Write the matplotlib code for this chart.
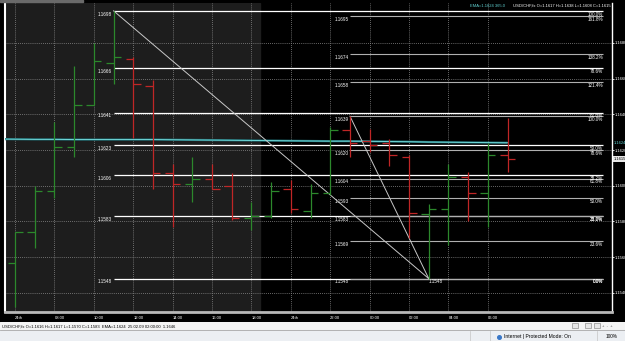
import matplotlib
matplotlib.use('Agg')
import matplotlib.pyplot as plt
from matplotlib.patches import Rectangle
import numpy as np

plt.rcParams['font.family'] = ['Liberation Sans', 'DejaVu Sans']

# --- hourly USD/CHF bars ---
opens  = [1.1557, 1.1574, 1.1597, 1.1622, 1.1645, 1.1669, 1.1671, 1.1656, 1.1607,
          1.1601, 1.1604, 1.1600, 1.1582, 1.1583, 1.1598, 1.1586, 1.1596, 1.1631,
          1.1625, 1.1624, 1.1616, 1.1584, 1.1587, 1.1605, 1.1596, 1.1617]
highs  = [1.1574, 1.1600, 1.1636, 1.1667, 1.1680, 1.1698, 1.1672, 1.1659, 1.1612,
          1.1616, 1.1612, 1.1607, 1.1591, 1.1602, 1.1603, 1.1601, 1.1633, 1.1639,
          1.1632, 1.1626, 1.1617, 1.1590, 1.1612, 1.1608, 1.1624, 1.1638]
lows   = [1.1532, 1.1565, 1.1593, 1.1616, 1.1645, 1.1657, 1.1627, 1.1598, 1.1577,
          1.1591, 1.1598, 1.1581, 1.1575, 1.1582, 1.1585, 1.1582, 1.1595, 1.1616,
          1.1619, 1.1611, 1.1571, 1.1548, 1.1567, 1.1580, 1.1577, 1.1608]
closes = [1.1574, 1.1597, 1.1622, 1.1645, 1.1670, 1.1672, 1.1657, 1.1607, 1.1601,
          1.1604, 1.1598, 1.1582, 1.1583, 1.1597, 1.1587, 1.1596, 1.1631, 1.1624,
          1.1623, 1.1617, 1.1585, 1.1587, 1.1605, 1.1596, 1.1617, 1.1615]

# EMA(365), starts one bar before the first visible bar
ema = [1.16262, 1.16261, 1.16260, 1.16260, 1.16259, 1.16259, 1.16259, 1.16259,
       1.16259, 1.16258, 1.16257, 1.16256, 1.16255, 1.16254, 1.16253, 1.16252,
       1.16251, 1.16250, 1.16250, 1.16249, 1.16248, 1.16247, 1.16245, 1.16244,
       1.16243, 1.16242, 1.16241]

time_labels = ['24th', '08:00', '10:00', '12:00', '14:00', '16:00', '18:00',
               '24th', '22:00', '00:00', '02:00', '04:00', '06:00']
price_ticks = [1.1540, 1.1560, 1.1580, 1.1600, 1.1620, 1.1640, 1.1660, 1.1680]

# fibonacci 1: bar 5 high -> bar 21 low
fib1_levels = [1.1698, 1.1666, 1.1641, 1.1623, 1.1606, 1.1583, 1.1548]
fib1_pct    = ['100.0%', '78.6%', '61.8%', '50.0%', '38.2%', '23.6%', '0.0%']
# fibonacci 2: bar 17 high -> bar 21 low
fib2_levels = [1.1695, 1.1674, 1.1658, 1.1639, 1.1620, 1.1604, 1.1593, 1.1583, 1.1569, 1.1548]
fib2_pct    = ['161.8%', '138.2%', '121.4%', '100.0%', '78.6%', '61.8%', '50.0%',
               '38.2%', '23.6%', '0.0%']

W, H = 625, 341
fig = plt.figure(figsize=(W / 100, H / 100), dpi=100, facecolor='black')
ax = fig.add_axes([5 / W, (H - 312) / H, (612 - 5) / W, (312 - 3) / H])
ax.set_facecolor('black')
ax.set_xlim(-0.51, 30.3)
ax.set_ylim(1.15293, 1.17024)

# older part of the chart is shaded
ax.axvspan(-0.51, 12.45, color='#1d1d1d', zorder=0)

# grid
ax.set_yticks(price_ticks)
ax.set_yticklabels(['%.4f' % p for p in price_ticks])
ax.yaxis.tick_right()
ax.tick_params(axis='y', colors='white', labelsize=3.0, length=1.5, width=0.6, pad=0.8)
ax.set_xticks(range(0, 2 * len(time_labels), 2))
ax.set_xticklabels(time_labels, ha='left')
ax.tick_params(axis='x', colors='white', labelsize=3.0, length=0, pad=3)
ax.grid(True, color='#8a8a8a', linestyle=(0, (1, 1.5)), linewidth=0.6, zorder=1)
ax.set_axisbelow(True)

for side in ['left', 'right']:
    ax.spines[side].set_color('white')
ax.spines['left'].set_linewidth(1.5)
ax.spines['right'].set_linewidth(1.0)
ax.spines['bottom'].set_color('#b8b8b8')
ax.spines['bottom'].set_linewidth(2.0)
ax.spines['top'].set_visible(False)

# EMA line
ema_x = np.arange(-1, len(ema) - 1)
ax.plot(ema_x, ema, color='#1f6a70', lw=1.6, zorder=3, solid_capstyle='butt')
ax.plot(ema_x, ema, color='#6fd8d8', lw=0.7, zorder=3)

# fibonacci lines and labels
x_end = 29.85
i_hi1, i_lo = 5, 21
i_hi2 = 17
for p, pct in zip(fib1_levels, fib1_pct):
    ax.hlines(p, i_hi1, x_end, color='white', lw=0.9, zorder=2)
    ax.annotate('%.4f' % p, xy=(i_hi1, p), xytext=(-1, -0.6), textcoords='offset points',
                ha='right', va='top', color='white', fontsize=3.3)
    ax.annotate(pct, xy=(x_end, p), xytext=(0, -0.6), textcoords='offset points',
                ha='right', va='top', color='white', fontsize=3.3)
for p, pct in zip(fib2_levels, fib2_pct):
    ax.hlines(p, i_hi2, x_end, color='#b0b0b0', lw=0.8, zorder=2)
    ax.annotate('%.4f' % p, xy=(i_hi2, p), xytext=(-1, -0.6), textcoords='offset points',
                ha='right', va='top', color='white', fontsize=3.3)
    ax.annotate(pct, xy=(x_end, p), xytext=(0, -0.6), textcoords='offset points',
                ha='right', va='top', color='white', fontsize=3.3)

ax.plot([i_hi1, i_lo], [highs[i_hi1], lows[i_lo]], color='#c8c8c8', lw=0.7, zorder=4)
ax.plot([i_hi2, i_lo], [highs[i_hi2], lows[i_lo]], color='#c8c8c8', lw=0.7, zorder=4)
ax.annotate('%.4f' % lows[i_lo], xy=(i_lo, lows[i_lo]), xytext=(0, -0.6),
            textcoords='offset points', ha='left', va='top', color='white', fontsize=3.3)

# OHLC bars
tick = 0.38
for i in range(len(opens)):
    c = '#2c882c' if closes[i] >= opens[i] else '#c02626'
    ax.vlines(i, lows[i], highs[i], color=c, lw=0.9, zorder=5)
    ax.hlines(opens[i], i - tick, i, color=c, lw=0.9, zorder=5)
    ax.hlines(closes[i], i, i + tick, color=c, lw=0.9, zorder=5)

# price labels on the right scale
ax.annotate('%.4f' % ema[-1], xy=(1, ema[-1]), xycoords=('axes fraction', 'data'),
            xytext=(1.2, 0), textcoords='offset points', ha='left', va='center',
            color='#5fd0d0', fontsize=3.0, annotation_clip=False)
ax.annotate('%.4f' % closes[-1], xy=(1, closes[-1]), xycoords=('axes fraction', 'data'),
            xytext=(1.2, 0), textcoords='offset points', ha='left', va='center',
            color='black', fontsize=3.0, annotation_clip=False,
            bbox=dict(boxstyle='square,pad=0.15', fc='#e8e8e8', ec='none'))

# header text
fig.text(505 / W, 1 - 6 / H, 'EMA=%.4f 365.0' % ema[-1], color='#5fd0d0',
         fontsize=3.0, ha='right', va='center')
fig.text(611 / W, 1 - 6 / H,
         'USD/CHF,fx O=%.4f H=%.4f L=%.4f C=%.4f' % (opens[-1], highs[-1], lows[-1], closes[-1]),
         color='white', fontsize=3.0, ha='right', va='center')
fig.patches.append(Rectangle((0, 1 - 2 / H), 83 / W, 2 / H, transform=fig.transFigure,
                             color='#6a6a6a'))

# window chrome at the bottom (data window line + status bar)
ui = fig.add_axes([0, 0, 1, 19 / H])
ui.set_xlim(0, W)
ui.set_ylim(H, 322)
ui.axis('off')
ui.add_patch(Rectangle((0, 322), W, 8, color='#f4f4f4'))
ui.add_patch(Rectangle((0, 330), W, 11, color='#eceff3'))
ui.axhline(330, color='#a8a8a8', lw=0.6)
ui.text(2, 326.2, 'USD/CHF,fx O=1.1616 H=1.1617 L=1.1570 C=1.1583  EMA=1.1624  '
        '25.02.09 02:00:00  1.1646', fontsize=3.0, color='black', va='center')
for bx in [572, 585, 594]:
    ui.add_patch(Rectangle((bx, 323.3), 6, 5, fc='#e6e6e6', ec='#7a7a7a', lw=0.4))
ui.text(602, 326, '+  -  +', fontsize=3.0, color='#555555', va='center')
for sx in [470, 490, 597]:
    ui.axvline(sx, ymin=0, ymax=0.55, color='#c4c4c4', lw=0.5)
ui.plot(499, 336.5, 'o', ms=2.6, color='#3a78c8')
ui.text(504, 336.6, 'Internet | Protected Mode: On', fontsize=3.6, color='black',
        va='center')
ui.text(606, 336.6, '100%', fontsize=3.4, color='black', va='center')

plt.savefig('out.png', dpi=100, facecolor=fig.get_facecolor())
